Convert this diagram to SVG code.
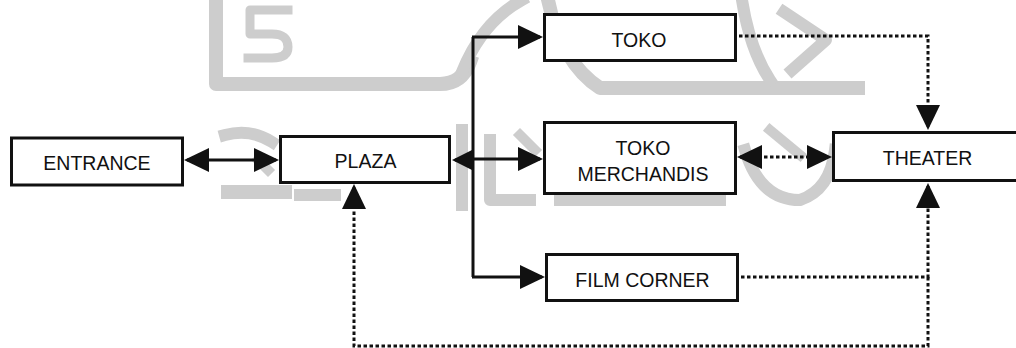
<svg xmlns="http://www.w3.org/2000/svg" width="1016" height="348" viewBox="0 0 1016 348">
  <style>
    .box { fill: #ffffff; stroke: #111111; stroke-width: 3; }
    .lbl { font-family: "Liberation Sans", Arial, sans-serif; font-size: 19.5px; fill: #111111; text-anchor: middle; }
    .solid { fill: none; stroke: #111111; stroke-width: 3; }
    .dot { fill: none; stroke: #111111; stroke-width: 3; stroke-dasharray: 3.5 2.5; }
    .wm { fill: none; stroke: #cdcdcd; stroke-linecap: square; stroke-linejoin: round; }
  </style>
  <defs>
    <marker id="ah" markerUnits="userSpaceOnUse" viewBox="0 0 25 24" markerWidth="25" markerHeight="24" refX="22" refY="12" orient="auto-start-reverse">
      <path d="M0,0 L25,12 L0,24 z" fill="#111111"/>
    </marker>
    <marker id="ahs" markerUnits="userSpaceOnUse" viewBox="0 0 21 21" markerWidth="21" markerHeight="21" refX="18" refY="10.5" orient="auto-start-reverse">
      <path d="M0,0 L21,10.5 L0,21 z" fill="#111111"/>
    </marker>
  </defs>
  <rect width="1016" height="348" fill="#ffffff"/>

  <g id="watermark" class="wm">
    <path d="M216,0 V84 H440 Q462,84 470,62" stroke-width="14"/>
    <path d="M288,10 H250 V34 H272 Q288,34 288,47 Q288,58 272,58 H248" stroke-width="9"/>
    <path d="M462,72 Q482,22 522,0" stroke-width="12"/>
    <path d="M548,0 Q560,62 600,88 H858" stroke-width="14"/>
    <path d="M742,0 Q750,50 770,80" stroke-width="12"/>
    <path d="M784,12 L826,40 L792,70" stroke-width="12"/>
    <path d="M225,135 Q250,128 272,142" stroke-width="12"/>
    <path d="M228,192 H285" stroke-width="14"/>
    <path d="M300,195 H335" stroke-width="12"/>
    <path d="M258,160 L268,170" stroke-width="10"/>
    <path d="M462,130 V205" stroke-width="12"/>
    <path d="M490,140 V200 H530" stroke-width="12"/>
    <path d="M520,135 L535,150" stroke-width="10"/>
    <path d="M560,200 H720" stroke-width="12"/>
    <path d="M600,128 V150" stroke-width="10"/>
    <path d="M690,130 V190" stroke-width="10"/>
    <path d="M745,150 Q760,200 800,200 Q830,190 835,150" stroke-width="12"/>
    <path d="M770,130 L800,155" stroke-width="10"/>
  </g>

  <g id="connectors">
    <line class="solid" x1="187" y1="160" x2="276" y2="160" marker-start="url(#ah)" marker-end="url(#ah)"/>
    <path class="solid" d="M473,37 V277"/>
    <path class="solid" d="M472,37 H540" marker-end="url(#ah)"/>
    <path class="solid" d="M473,159 H540" marker-end="url(#ah)"/>
    <path class="solid" d="M472,277 H542" marker-end="url(#ah)"/>
    <path class="solid" d="M474,160 H455" marker-end="url(#ahs)"/>
    <path class="dot" d="M739,36 H928 V127" marker-end="url(#ah)"/>
    <line class="dot" x1="740" y1="157" x2="829" y2="157" marker-start="url(#ah)" marker-end="url(#ah)"/>
    <path class="dot" d="M741,277 H928 V186" marker-end="url(#ah)"/>
    <path class="dot" d="M928,277 V346 H354 V187" marker-end="url(#ah)"/>
  </g>

  <g id="entrance">
    <rect class="box" x="11.5" y="138" width="171" height="47"/>
    <text class="lbl" x="97" y="170">ENTRANCE</text>
  </g>
  <g id="plaza">
    <rect class="box" x="280.5" y="136.5" width="169" height="46"/>
    <text class="lbl" x="365.5" y="168">PLAZA</text>
  </g>
  <g id="toko">
    <rect class="box" x="544.5" y="14.5" width="191" height="46"/>
    <text class="lbl" x="639" y="47">TOKO</text>
  </g>
  <g id="toko-merchandis">
    <rect class="box" x="544.5" y="122.5" width="191" height="71"/>
    <text class="lbl" x="643" y="155">TOKO</text>
    <text class="lbl" x="643" y="181">MERCHANDIS</text>
  </g>
  <g id="film-corner">
    <rect class="box" x="546.5" y="254.5" width="191" height="46"/>
    <text class="lbl" x="642.5" y="287">FILM CORNER</text>
  </g>
  <g id="theater">
    <rect class="box" x="833.5" y="132.5" width="200" height="48"/>
    <text class="lbl" x="927.5" y="165">THEATER</text>
  </g>
</svg>
